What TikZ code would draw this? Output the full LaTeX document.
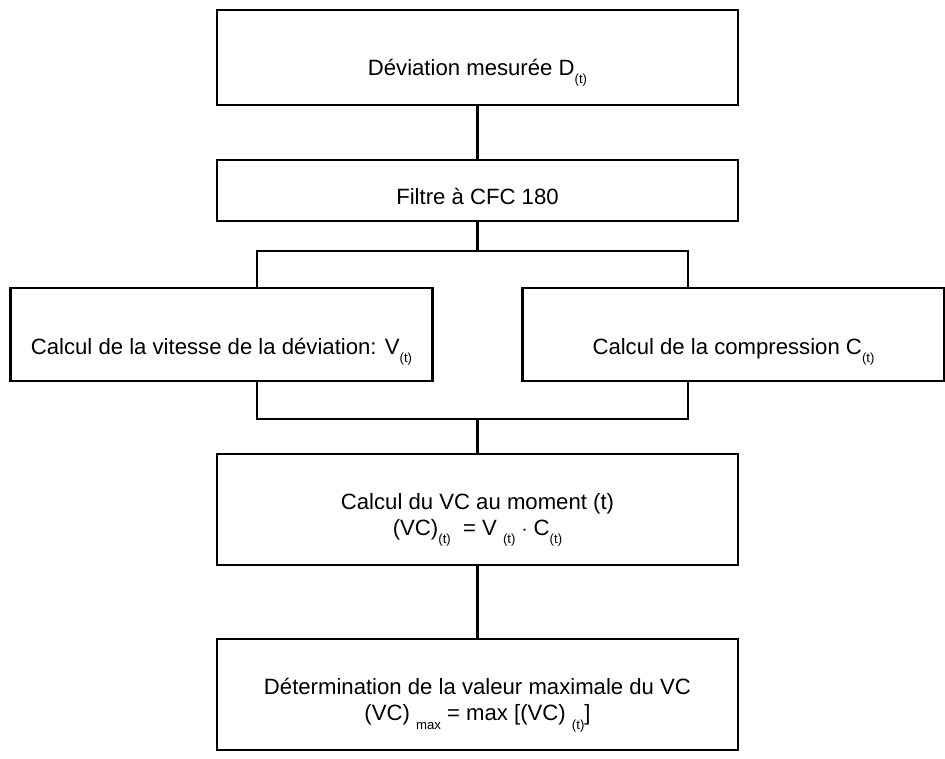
\documentclass[tikz,border=0pt]{standalone}
\usepackage{fontspec}
\setmainfont{Liberation Sans}
\usepackage{tikz}
\usetikzlibrary{positioning, calc}

\newcommand{\lowidx}[1]{\raisebox{-0.7ex}{\fontsize{7.5}{8}\selectfont #1}}
\newcommand{\haut}[1]{\rule{0pt}{#1}}

\begin{document}
\begin{tikzpicture}[
    bloc/.style={rectangle, draw, line width=1.5pt, outer sep=0pt, minimum width=10.42cm, align=center, font=\fontsize{12.6}{15}\selectfont},
    cote/.style={bloc, minimum width=8.44cm, minimum height=1.86cm, text height=0.78cm, text depth=0pt},
    ligne/.style={line width=1.4pt}
]
    \useasboundingbox (-9.55,1.15) rectangle (9.35,-14.03);

    \node [bloc, minimum height=1.9cm, text height=0.70cm, text depth=0pt] (deviation) {D\'eviation mesur\'ee D\lowidx{(t)}};
    \node [bloc, minimum height=1.22cm, text height=0.56cm, text depth=0pt, below=1.1cm of deviation] (filtre) {Filtre \`a CFC 180};

    \node [cote, below=1.34cm of filtre, xshift=-5.12cm] (vitesse) {Calcul de la vitesse de la d\'eviation: V\lowidx{(t)}};
    \node [cote, below=1.34cm of filtre, xshift=5.12cm] (compression) {Calcul de la compression C\lowidx{(t)}};

    \node [bloc, minimum height=2.22cm, below=1.46cm of vitesse, xshift=5.12cm] (calcul) {\haut{0.73cm}Calcul du VC au moment (t)\\(VC)\lowidx{(t)}\ \ = V \lowidx{(t)} $\cdot$ C\lowidx{(t)}};
    \node [bloc, minimum height=2.22cm, below=1.48cm of calcul] (maximum) {\haut{0.75cm}D\'etermination de la valeur maximale du VC\\(VC) \lowidx{max} = max [(VC) \lowidx{(t)}]};

    \coordinate [below=0.6cm of filtre] (fourche);
    \coordinate [xshift=-4.41cm] (fourcheG) at (fourche);
    \coordinate [xshift=4.21cm] (fourcheD) at (fourche);
    \coordinate [above=0.7cm of calcul] (jonction);
    \coordinate [xshift=-4.41cm] (jonctionG) at (jonction);
    \coordinate [xshift=4.21cm] (jonctionD) at (jonction);

    \draw [ligne] (deviation) -- (filtre);
    \draw [ligne] (filtre) -- (fourche);
    \draw [ligne] (fourcheG |- vitesse.north) -- (fourcheG) -- (fourcheD) -- (fourcheD |- compression.north);
    \draw [ligne] (jonctionG |- vitesse.south) -- (jonctionG) -- (jonctionD) -- (jonctionD |- compression.south);
    \draw [ligne] (jonction) -- (calcul);
    \draw [ligne] (calcul) -- (maximum);
\end{tikzpicture}
\end{document}
